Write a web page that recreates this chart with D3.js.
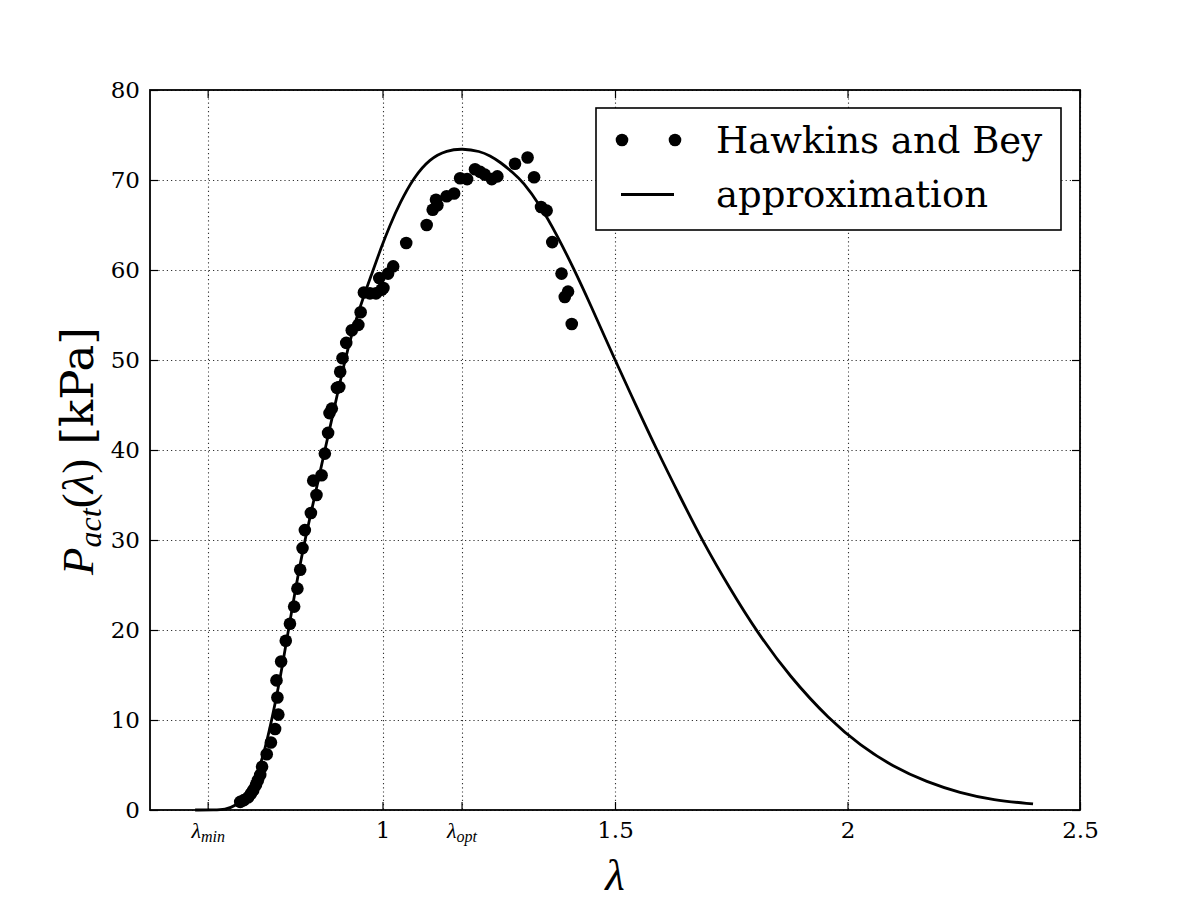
<!DOCTYPE html>
<html>
<head>
<meta charset="utf-8">
<script src="https://cdn.jsdelivr.net/npm/d3@7"></script>
<style>
  body { margin: 0; background: #fff; }
</style>
</head>
<body>
<div id="chart"></div>
<script>
// tick positions on the lambda axis (lambda_min / lambda_opt are named ticks)
const lambdaMin = 0.624;
const lambdaOpt = 1.17;
const xTicks = [lambdaMin, 1, lambdaOpt, 1.5, 2, 2.5];
const xTickLabels = ["λ_min", "1", "λ_opt", "1.5", "2", "2.5"];
const yTicks = [0, 10, 20, 30, 40, 50, 60, 70, 80];

// Hawkins and Bey measurements
const hbLambda = [0.694, 0.702, 0.711, 0.717, 0.722, 0.728, 0.732, 0.737, 0.741, 0.751,
  0.760, 0.769, 0.776, 0.774, 0.772, 0.782, 0.792, 0.801, 0.810, 0.817,
  0.823, 0.828, 0.833, 0.846, 0.858, 0.851, 0.869, 0.876, 0.883, 0.886,
  0.891, 0.902, 0.907, 0.909, 0.914, 0.922, 0.934, 0.948, 0.953, 0.960,
  0.973, 0.986, 0.998, 0.993, 1.002, 1.012, 1.023, 1.051, 1.095, 1.108,
  1.118, 1.115, 1.138, 1.154, 1.167, 1.182, 1.199, 1.210, 1.220, 1.235,
  1.247, 1.285, 1.312, 1.326, 1.341, 1.353, 1.365, 1.385, 1.399, 1.392, 1.407];
const hbPact = [0.9, 1.1, 1.4, 1.8, 2.2, 2.8, 3.3, 3.9, 4.8, 6.2,
  7.5, 9.0, 10.6, 12.5, 14.4, 16.5, 18.8, 20.7, 22.6, 24.6,
  26.7, 29.1, 31.1, 33.0, 35.0, 36.6, 37.2, 39.6, 41.9, 44.1,
  44.6, 46.9, 47.0, 48.7, 50.2, 51.9, 53.3, 53.9, 55.3, 57.5,
  57.4, 57.4, 57.8, 59.1, 58.0, 59.6, 60.4, 63.0, 65.0, 66.7,
  67.2, 67.8, 68.2, 68.5, 70.2, 70.1, 71.2, 70.9, 70.6, 70.1,
  70.4, 71.8, 72.5, 70.3, 67.0, 66.6, 63.1, 59.6, 57.6, 57.0, 54.0];

// approximation curve
const approxLambda = [0.597, 0.640, 0.661, 0.683, 0.704, 0.726, 0.743, 0.762, 0.780, 0.797,
  0.814, 0.833, 0.855, 0.876, 0.898, 0.919, 0.945, 0.980, 0.995, 1.016,
  1.038, 1.066, 1.102, 1.139, 1.171, 1.210, 1.231, 1.253, 1.281, 1.302,
  1.339, 1.375, 1.410, 1.446, 1.500, 1.543, 1.590, 1.640, 1.689, 1.747,
  1.805, 1.876, 1.962, 2.027, 2.098, 2.171, 2.242, 2.313, 2.399];
const approxPact = [0, 0, 0.05, 0.4, 1.5, 3.5, 5.8, 10, 14.6, 19.8,
  24.9, 30, 35, 40, 45, 50, 55, 60, 62.2, 65.0,
  67.5, 70.2, 72.4, 73.3, 73.5, 73.2, 72.7, 72.0, 70.8, 69.8,
  67.2, 63.9, 60.3, 56.3, 50, 45.2, 40, 34.8, 29.8, 24.6,
  19.8, 14.8, 10, 7.2, 4.8, 3.1, 1.9, 1.1, 0.67];

const W = 1200, H = 900;
const margin = { left: 150, right: 120, top: 90, bottom: 90 };
const plotW = W - margin.left - margin.right;
const plotH = H - margin.top - margin.bottom;
const serif = "'DejaVu Serif', serif";
const mathFont = "'Liberation Serif', 'Times New Roman', serif";

const svg = d3.select("#chart")
  .append("svg")
  .attr("width", W)
  .attr("height", H)
  .attr("viewBox", [0, 0, W, H]);

const x = d3.scaleLinear().domain([0.5, 2.5]).range([margin.left, margin.left + plotW]);
const y = d3.scaleLinear().domain([0, 80]).range([margin.top + plotH, margin.top]);

// dotted grid
const grid = svg.append("g").attr("class", "grid")
  .attr("stroke", "#333")
  .attr("stroke-width", 1.1)
  .attr("stroke-dasharray", "1.2,3");
grid.selectAll("line.v")
  .data(xTicks)
  .join("line")
  .attr("class", "v")
  .attr("x1", d => Math.round(x(d)) + 0.5)
  .attr("x2", d => Math.round(x(d)) + 0.5)
  .attr("y1", y(80))
  .attr("y2", y(0));
grid.selectAll("line.h")
  .data(yTicks)
  .join("line")
  .attr("class", "h")
  .attr("x1", x(0.5))
  .attr("x2", x(2.5))
  .attr("y1", d => Math.round(y(d)) + 0.5)
  .attr("y2", d => Math.round(y(d)) + 0.5);

// data points
svg.append("g")
  .selectAll("circle")
  .data(d3.zip(hbLambda, hbPact))
  .join("circle")
  .attr("cx", d => x(d[0]))
  .attr("cy", d => y(d[1]))
  .attr("r", 6.3)
  .attr("fill", "#000");

// approximation line
const line = d3.line()
  .x(d => x(d[0]))
  .y(d => y(d[1]))
  .curve(d3.curveBasis);
svg.append("path")
  .datum(d3.zip(approxLambda, approxPact))
  .attr("d", line)
  .attr("fill", "none")
  .attr("stroke", "#000")
  .attr("stroke-width", 2.8);

// axes with inward ticks on all four sides
function styleAxis(g) {
  g.select(".domain").remove();
  g.selectAll(".tick line").attr("stroke", "#000").attr("stroke-width", 1.2);
  g.selectAll(".tick text")
    .attr("fill", "#000")
    .style("font-family", serif)
    .style("font-size", "23px");
}

const xAxis = svg.append("g")
  .attr("transform", `translate(0,${y(0)})`)
  .call(d3.axisBottom(x).tickValues(xTicks).tickSize(-8).tickPadding(12)
    .tickFormat((d, i) => xTickLabels[i]))
  .call(styleAxis);

// lambda_min / lambda_opt as italic lambda with subscript
xAxis.selectAll(".tick text").each(function (d, i) {
  const label = xTickLabels[i];
  if (label.indexOf("_") < 0) return;
  const parts = label.split("_");
  const t = d3.select(this).text(null)
    .style("font-family", mathFont)
    .style("font-style", "italic");
  t.append("tspan").text(parts[0]).style("font-size", "22px");
  t.append("tspan").text(parts[1]).attr("dy", 4).style("font-size", "16px");
});

svg.append("g")
  .attr("transform", `translate(0,${y(80)})`)
  .call(d3.axisTop(x).tickValues(xTicks).tickSize(-8).tickFormat(""))
  .call(styleAxis);

svg.append("g")
  .attr("transform", `translate(${x(0.5)},0)`)
  .call(d3.axisLeft(y).tickValues(yTicks).tickSize(-8).tickPadding(10))
  .call(styleAxis);

svg.append("g")
  .attr("transform", `translate(${x(2.5)},0)`)
  .call(d3.axisRight(y).tickValues(yTicks).tickSize(-8).tickFormat(""))
  .call(styleAxis);

// frame
svg.append("rect")
  .attr("x", x(0.5))
  .attr("y", y(80))
  .attr("width", plotW)
  .attr("height", plotH)
  .attr("fill", "none")
  .attr("stroke", "#000")
  .attr("stroke-width", 1.8);

// axis labels
svg.append("text")
  .attr("x", x(1.5))
  .attr("y", 890)
  .attr("text-anchor", "middle")
  .style("font-family", mathFont)
  .style("font-style", "italic")
  .style("font-size", "45px")
  .text("λ");

const yLabel = svg.append("text")
  .attr("transform", `translate(93,${y(40) + 1}) rotate(-90)`)
  .attr("text-anchor", "middle")
  .style("font-size", "45px");
yLabel.append("tspan").text("P").style("font-family", mathFont).style("font-style", "italic");
yLabel.append("tspan").text("act").attr("dy", 8).style("font-family", mathFont)
  .style("font-style", "italic").style("font-size", "32px");
yLabel.append("tspan").text("(").attr("dy", -8).style("font-family", mathFont);
yLabel.append("tspan").text("λ").style("font-family", mathFont).style("font-style", "italic");
yLabel.append("tspan").text(")").style("font-family", mathFont);
yLabel.append("tspan").text(" [kPa]").style("font-family", serif);

// legend
const legend = svg.append("g");
legend.append("rect")
  .attr("x", 596)
  .attr("y", 108)
  .attr("width", 465)
  .attr("height", 122)
  .attr("fill", "#fff")
  .attr("stroke", "#000")
  .attr("stroke-width", 1.6);
legend.selectAll("circle")
  .data([622, 675])
  .join("circle")
  .attr("cx", d => d)
  .attr("cy", 140)
  .attr("r", 6.3)
  .attr("fill", "#000");
legend.append("line")
  .attr("x1", 621).attr("x2", 674)
  .attr("y1", 194.5).attr("y2", 194.5)
  .attr("stroke", "#000")
  .attr("stroke-width", 2.8);
legend.selectAll("text")
  .data(["Hawkins and Bey", "approximation"])
  .join("text")
  .attr("x", 716)
  .attr("y", (d, i) => 153 + i * 54)
  .style("font-family", serif)
  .style("font-size", "37px")
  .attr("fill", "#000")
  .text(d => d);
</script>
</body>
</html>
